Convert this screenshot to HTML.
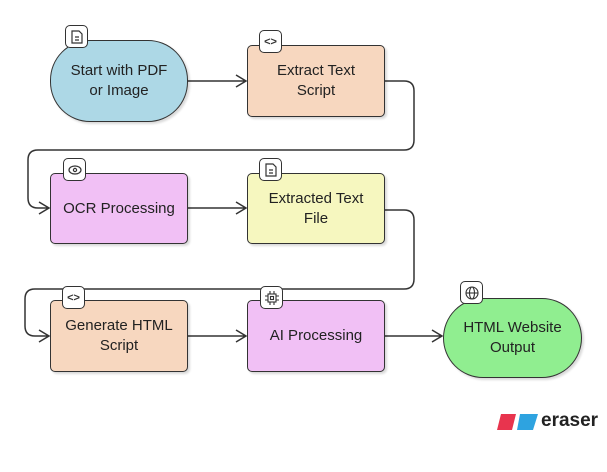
<!DOCTYPE html>
<html><head><style>
body{margin:0;width:607px;height:472px;background:#fff;position:relative;overflow:hidden;font-family:"Liberation Sans",sans-serif}
.n{position:absolute;box-sizing:border-box;border:1.5px solid #333;border-radius:5px;display:flex;align-items:center;justify-content:center;text-align:center;font-size:15px;color:#222;line-height:20px;box-shadow:2px 2px 2px rgba(0,0,0,.15)}
.ic{position:absolute;width:23px;height:23px;box-sizing:border-box;border:1.5px solid #333;border-radius:5px;background:#fff;display:flex;align-items:center;justify-content:center}
</style></head><body>
<svg width="607" height="472" style="position:absolute;left:0;top:0" fill="none" stroke="#333" stroke-width="1.5">
<path d="M188 81H246M236 75L246 81L236 87"/>
<path d="M385 81H404Q414 81 414 91V140Q414 150 404 150H38Q28 150 28 160V198Q28 208 38 208H49M39 202L49 208L39 214"/>
<path d="M188 208H246M236 202L246 208L236 214"/>
<path d="M385 210H404Q414 210 414 220V279Q414 289 404 289H35Q25 289 25 299V326Q25 336 35 336H49M39 330L49 336L39 342"/>
<path d="M188 336H246M236 330L246 336L236 342"/>
<path d="M385 336H442M432 330L442 336L432 342"/>
</svg>
<div class="n" style="left:50px;top:40px;width:138px;height:82px;background:#add8e6;border-radius:40px">Start with PDF<br>or Image</div>
<div class="n" style="left:247px;top:45px;width:138px;height:72px;background:#f7d7bf">Extract Text<br>Script</div>
<div class="n" style="left:50px;top:173px;width:138px;height:71px;background:#f1c0f5">OCR Processing</div>
<div class="n" style="left:247px;top:173px;width:138px;height:71px;background:#f6f7bf">Extracted Text<br>File</div>
<div class="n" style="left:50px;top:300px;width:138px;height:72px;background:#f7d7bf">Generate HTML<br>Script</div>
<div class="n" style="left:247px;top:300px;width:138px;height:72px;background:#f1c0f5">AI Processing</div>
<div class="n" style="left:443px;top:298px;width:139px;height:80px;background:#90ee90;border-radius:40px">HTML Website<br>Output</div>
<div class="ic" style="left:65px;top:25px"><svg width="12" height="14" fill="none" stroke="#333" stroke-width="1.2"><path d="M1 1H8L11 4V13H1Z M4 7H8M4 10H8"/></svg></div>
<div class="ic" style="left:259px;top:30px;font-size:11px;font-weight:bold;color:#333">&lt;&gt;</div>
<div class="ic" style="left:63px;top:158px"><svg width="14" height="10" fill="none" stroke="#333" stroke-width="1.2"><ellipse cx="7" cy="5" rx="6" ry="4"/><circle cx="7" cy="5" r="1.6"/></svg></div>
<div class="ic" style="left:259px;top:158px"><svg width="12" height="14" fill="none" stroke="#333" stroke-width="1.2"><path d="M1 1H8L11 4V13H1Z M4 7H8M4 10H8"/></svg></div>
<div class="ic" style="left:62px;top:286px;font-size:11px;font-weight:bold;color:#333">&lt;&gt;</div>
<div class="ic" style="left:260px;top:286px"><svg width="14" height="14" fill="none" stroke="#333" stroke-width="1.1"><rect x="3" y="3" width="8" height="8"/><rect x="5.5" y="5.5" width="3" height="3"/><path d="M5 0V3M9 0V3M5 11V14M9 11V14M0 5H3M0 9H3M11 5H14M11 9H14"/></svg></div>
<div class="ic" style="left:460px;top:281px"><svg width="14" height="14" fill="none" stroke="#333" stroke-width="1.1"><circle cx="7" cy="7" r="6"/><ellipse cx="7" cy="7" rx="2.5" ry="6"/><path d="M1 7H13"/></svg></div>
<svg style="position:absolute;left:497px;top:414px" width="42" height="16"><polygon points="4,0 19,0 15,16 0,16" fill="#e8344e"/><polygon points="23,0 41,0 36,16 20,16" fill="#2ea3e0"/></svg>
<div style="position:absolute;left:541px;top:410px;font-size:19px;font-weight:bold;color:#222">eraser</div>
</body></html>
